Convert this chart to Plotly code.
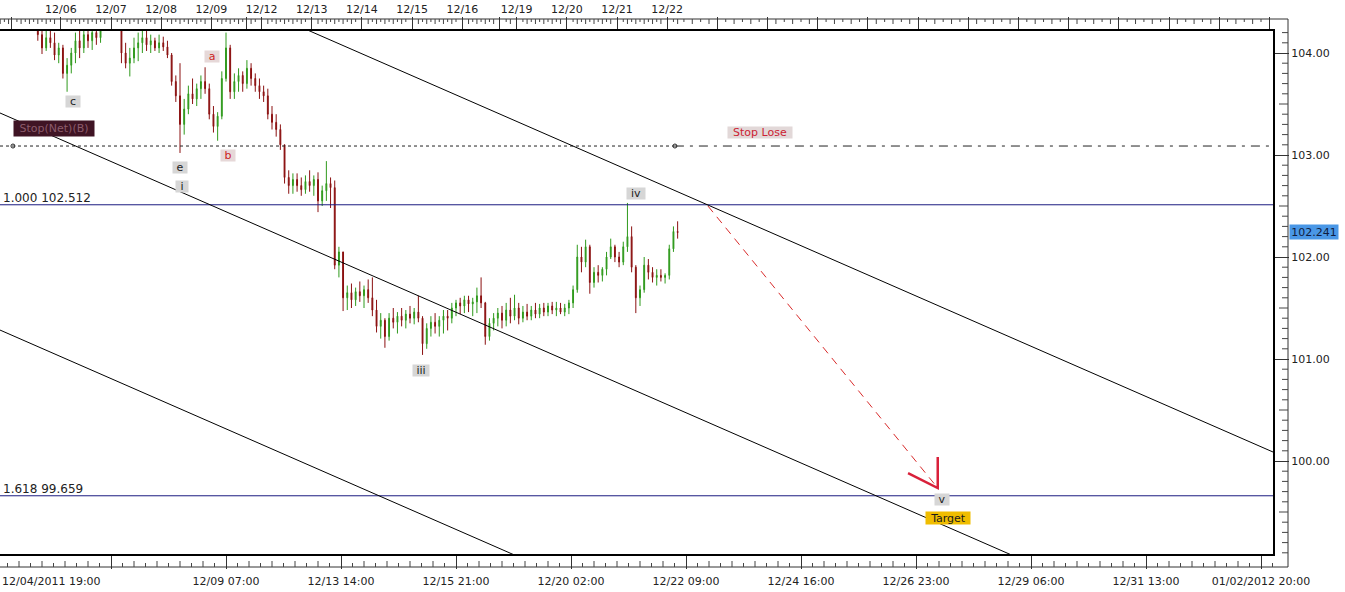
import plotly.graph_objects as go

# ---------------- data (2-hour candles, x = bar index in hours) ----------------
bars = list(range(20, 327, 2))
opens = [104.30, 104.18, 104.05, 104.15, 104.10, 103.98, 104.05, 103.80, 103.88, 104.00,
         104.12, 104.05, 104.18, 104.12, 104.20, 104.15, 104.25, 104.38, 104.40, 104.30,
         104.25, 104.00, 103.90, 103.95, 104.05, 104.10, 104.15, 104.08, 104.12, 104.05,
         104.10, 104.06, 103.98, 103.72, 103.58, 103.30, 103.45, 103.60, 103.55, 103.65,
         103.72, 103.65, 103.40, 103.28, 103.38, 103.75, 104.05, 103.62, 103.72, 103.78,
         103.70, 103.85, 103.75, 103.68, 103.62, 103.58, 103.40, 103.32, 103.25, 103.10,
         102.78, 102.70, 102.76, 102.70, 102.66, 102.74, 102.70, 102.76, 102.55, 102.65,
         102.72, 102.68, 101.92, 102.05, 101.60, 101.65, 101.58, 101.66, 101.62, 101.68,
         101.60, 101.48, 101.32, 101.38, 101.22, 101.40, 101.36, 101.42, 101.38, 101.44,
         101.40, 101.46, 101.40, 101.15, 101.30, 101.36, 101.32, 101.38, 101.42, 101.40,
         101.50, 101.55, 101.52, 101.58, 101.54, 101.56, 101.62, 101.55, 101.22, 101.35,
         101.40, 101.45, 101.38, 101.48, 101.42, 101.50, 101.40, 101.46, 101.42, 101.48,
         101.44, 101.50, 101.46, 101.52, 101.48, 101.50, 101.46, 101.50, 101.55, 101.68,
         102.00, 101.95, 102.10, 101.75, 101.85, 101.82, 101.88, 102.00, 102.10, 102.00,
         101.95, 102.10, 102.20, 101.90, 101.60, 101.68, 101.92, 101.85, 101.80, 101.82,
         101.80, 101.82, 102.08, 102.25]
highs = [104.38, 104.25, 104.22, 104.30, 104.20, 104.10, 104.08, 103.95, 104.05, 104.20,
         104.25, 104.30, 104.30, 104.28, 104.32, 104.35, 104.45, 104.50, 104.48, 104.40,
         104.30, 104.10, 104.05, 104.15, 104.20, 104.25, 104.25, 104.18, 104.15, 104.18,
         104.16, 104.12, 104.00, 103.78, 103.90, 103.55, 103.68, 103.75, 103.70, 103.78,
         103.86, 103.70, 103.48, 103.42, 103.82, 104.20, 104.08, 103.80, 103.85, 103.82,
         103.93, 103.90, 103.80, 103.75, 103.68, 103.65, 103.48, 103.40, 103.30, 103.10,
         102.85, 102.82, 102.82, 102.78, 102.80, 102.85, 102.80, 102.83, 102.70, 102.94,
         102.78, 102.75, 102.10, 102.05, 101.72, 101.74, 101.70, 101.76, 101.72, 101.78,
         101.80, 101.58, 101.45, 101.40, 101.45, 101.50, 101.46, 101.50, 101.48, 101.52,
         101.50, 101.62, 101.42, 101.35, 101.42, 101.45, 101.42, 101.48, 101.48, 101.55,
         101.58, 101.60, 101.62, 101.62, 101.60, 101.70, 101.80, 101.56, 101.40, 101.45,
         101.50, 101.52, 101.55, 101.60, 101.63, 101.55, 101.52, 101.54, 101.52, 101.55,
         101.54, 101.55, 101.55, 101.56, 101.56, 101.55, 101.54, 101.58, 101.72, 102.12,
         102.10, 102.17, 102.12, 101.90, 101.92, 101.90, 102.05, 102.18, 102.12, 102.05,
         102.15, 102.53, 102.30, 101.92, 101.72, 102.00, 101.98, 101.90, 101.88, 101.88,
         101.84, 102.12, 102.30, 102.35]
lows = [104.12, 103.99, 104.02, 104.05, 103.93, 103.90, 103.75, 103.62, 103.80, 103.90,
        103.95, 104.00, 104.05, 104.03, 104.08, 104.10, 104.22, 104.28, 104.25, 104.23,
        103.90, 103.85, 103.77, 103.90, 103.92, 104.00, 104.02, 104.00, 104.02, 104.00,
        104.02, 103.95, 103.68, 103.52, 103.02, 103.20, 103.40, 103.50, 103.48, 103.55,
        103.60, 103.35, 103.22, 103.14, 103.35, 103.72, 103.55, 103.55, 103.62, 103.62,
        103.65, 103.68, 103.62, 103.55, 103.52, 103.35, 103.25, 103.18, 103.05, 102.72,
        102.62, 102.62, 102.64, 102.60, 102.62, 102.64, 102.60, 102.44, 102.50, 102.55,
        102.48, 101.88, 101.80, 101.47, 101.48, 101.50, 101.52, 101.56, 101.50, 101.55,
        101.42, 101.26, 101.20, 101.11, 101.18, 101.30, 101.25, 101.32, 101.30, 101.35,
        101.34, 101.36, 101.04, 101.10, 101.22, 101.25, 101.22, 101.25, 101.28, 101.35,
        101.42, 101.44, 101.45, 101.46, 101.42, 101.45, 101.50, 101.14, 101.18, 101.28,
        101.32, 101.30, 101.32, 101.35, 101.38, 101.34, 101.36, 101.38, 101.38, 101.40,
        101.40, 101.42, 101.42, 101.44, 101.42, 101.44, 101.42, 101.44, 101.50, 101.65,
        101.85, 101.90, 101.64, 101.70, 101.75, 101.76, 101.82, 101.98, 101.95, 101.90,
        101.92, 102.05, 101.85, 101.45, 101.52, 101.65, 101.78, 101.75, 101.72, 101.76,
        101.74, 101.78, 102.05, 102.18]
closes = [104.18, 104.05, 104.15, 104.10, 103.98, 104.05, 103.80, 103.88, 104.00, 104.12,
          104.05, 104.18, 104.12, 104.20, 104.15, 104.25, 104.38, 104.40, 104.30, 104.25,
          104.00, 103.90, 103.95, 104.05, 104.10, 104.15, 104.08, 104.12, 104.05, 104.10,
          104.06, 103.98, 103.72, 103.58, 103.30, 103.45, 103.60, 103.55, 103.65, 103.72,
          103.65, 103.40, 103.28, 103.38, 103.75, 104.05, 103.62, 103.72, 103.78, 103.70,
          103.85, 103.75, 103.68, 103.62, 103.58, 103.40, 103.32, 103.25, 103.10, 102.78,
          102.70, 102.76, 102.70, 102.66, 102.74, 102.70, 102.76, 102.55, 102.65, 102.72,
          102.68, 101.92, 102.05, 101.60, 101.65, 101.58, 101.66, 101.62, 101.68, 101.60,
          101.48, 101.32, 101.38, 101.22, 101.40, 101.36, 101.42, 101.38, 101.44, 101.40,
          101.46, 101.40, 101.15, 101.30, 101.36, 101.32, 101.38, 101.42, 101.40, 101.50,
          101.55, 101.52, 101.58, 101.54, 101.56, 101.62, 101.55, 101.22, 101.35, 101.40,
          101.45, 101.38, 101.48, 101.42, 101.50, 101.40, 101.46, 101.42, 101.48, 101.44,
          101.50, 101.46, 101.52, 101.48, 101.50, 101.46, 101.50, 101.55, 101.68, 102.00,
          101.95, 102.10, 101.75, 101.85, 101.82, 101.88, 102.00, 102.10, 102.00, 101.95,
          102.10, 102.20, 101.90, 101.60, 101.68, 101.92, 101.85, 101.80, 101.82, 101.80,
          101.82, 102.08, 102.25, 102.241]

# bottom time axis (bar index -> label)
time_ticks = [55, 110, 165, 220, 275, 330, 385, 440, 495, 550, 605]
time_labels = ["", "12/09 07:00", "12/13 14:00", "12/15 21:00", "12/20 02:00",
               "12/22 09:00", "12/24 16:00", "12/26 23:00", "12/29 06:00",
               "12/31 13:00", "01/02/2012 20:00"]
first_time_label = "12/04/2011 19:00"

# top day axis
day_ticks = [7.5, 31, 55, 79, 103, 120, 127, 151, 175, 199, 223, 241, 249, 273, 297, 321,
             345, 369, 393, 417, 441, 465, 489, 513, 537, 561, 585, 609]
day_labels = ["", "12/06", "12/07", "12/08", "12/09", "", "12/12", "12/13", "12/14",
              "12/15", "12/16", "", "12/19", "12/20", "12/21", "12/22"] + [""] * 12
session_marks = day_ticks[:16]

# price axis
price_ticks = [100, 101, 102, 103, 104]
last_price = 102.241

# fibonacci projection levels
fib_levels = [102.512, 99.659]
fib_names = ["1.000 102.512", "1.618 99.659"]

# stop level
stop_level = 103.088
stop_split_bar = 324.7
stop_anchor_bar = 8.1

# channel trend lines (bar, price endpoints)
channel_x = [[140.0, 615.0], [0.0, 490.0], [0.0, 250.0]]
channel_y = [[104.306, 100.050], [103.429, 99.040], [101.301, 99.060]]

# projected path to target
path_x = [340.5, 450.4]
path_y = [102.50, 99.735]
head_x = [436.2, 450.4, 450.4]
head_y = [99.882, 99.735, 100.039]

# wave labels: text, bar, price, style
wave_labels = [("c", 36.8, 103.52, "g", 14), ("e", 88.0, 102.873, "g", 14),
               ("i", 89.0, 102.696, "g", 12), ("a", 103.3, 103.961, "r", 14),
               ("b", 110.96, 103.00, "r", 14), ("iii", 203.3, 100.892, "g", 16),
               ("iv", 306.1, 102.627, "g", 18), ("v", 452.4, 99.618, "g", 14)]

# ---------------- geometry ----------------
W, H = 1345, 592
ML, MR, MT, MB = 0, 72, 31, 38
PW, PH = W - ML - MR, H - MT - MB
X_RANGE = [1.913, 610.74]
Y_RANGE = [99.0882, 104.2157]
FONT = "DejaVu Sans"


def pyp(py):  # pixel row -> paper y
    return (H - MB - py) / PH


def pxp(px):  # pixel column -> paper x
    return (px - ML) / PW


GREEN = "#2f9a1c"
RED = "#8b1010"

fig = go.Figure()

fig.add_trace(go.Candlestick(
    x=bars, open=opens, high=highs, low=lows, close=closes,
    increasing=dict(line=dict(color=GREEN, width=1), fillcolor=GREEN),
    decreasing=dict(line=dict(color=RED, width=1), fillcolor=RED),
    whiskerwidth=0, showlegend=False, hoverinfo="skip"))

# fib lines
for lvl in fib_levels:
    fig.add_trace(go.Scatter(x=X_RANGE, y=[lvl, lvl], mode="lines",
                             line=dict(color="#1a1a80", width=1), showlegend=False, hoverinfo="skip"))

# stop line
fig.add_trace(go.Scatter(x=[X_RANGE[0], stop_split_bar], y=[stop_level, stop_level], mode="lines",
                         line=dict(color="#222222", width=1, dash="3px,3px"), showlegend=False, hoverinfo="skip"))
fig.add_trace(go.Scatter(x=[stop_split_bar, X_RANGE[1]], y=[stop_level, stop_level], mode="lines",
                         line=dict(color="#222222", width=1, dash="9px,6px,3px,6px"), showlegend=False, hoverinfo="skip"))
fig.add_trace(go.Scatter(x=[stop_anchor_bar, stop_split_bar], y=[stop_level, stop_level], mode="markers",
                         marker=dict(symbol="circle-open", size=4, color="#222222", line=dict(width=1)),
                         showlegend=False, hoverinfo="skip"))

# channel
for cx, cy in zip(channel_x, channel_y):
    fig.add_trace(go.Scatter(x=cx, y=cy, mode="lines", line=dict(color="black", width=1),
                             showlegend=False, hoverinfo="skip"))

# projection arrow
fig.add_trace(go.Scatter(x=path_x, y=path_y, mode="lines",
                         line=dict(color="#d92b2b", width=1, dash="8px,6px"), showlegend=False, hoverinfo="skip"))
fig.add_trace(go.Scatter(x=head_x, y=head_y, mode="lines",
                         line=dict(color="#d9203a", width=2.5), showlegend=False, hoverinfo="skip"))

# session markers on top ruler (on xaxis2)
tri_y = Y_RANGE[1] + (MT - 23) / PH * (Y_RANGE[1] - Y_RANGE[0])
fig.add_trace(go.Scatter(x=session_marks, y=[tri_y] * len(session_marks), xaxis="x2", mode="markers",
                         marker=dict(symbol="triangle-down", size=9, color="#d4a820",
                                     line=dict(color="#a98010", width=0.5)),
                         cliponaxis=False, showlegend=False, hoverinfo="skip"))

# ---------------- rulers (shapes) ----------------
shapes = []
RX = pxp(1288)
top_y, bot_y = pyp(19), pyp(567)
shapes.append(dict(type="line", xref="paper", yref="paper", x0=0, x1=RX, y0=top_y, y1=top_y,
                   line=dict(color="#333333", width=1)))
shapes.append(dict(type="line", xref="paper", yref="paper", x0=0, x1=RX, y0=bot_y, y1=bot_y,
                   line=dict(color="#333333", width=1)))
shapes.append(dict(type="line", xref="paper", yref="paper", x0=RX, x1=RX, y0=bot_y, y1=top_y,
                   line=dict(color="#333333", width=1)))

# top minor ticks
path = []
cnt = 0
minor_top = list(range(2, 327, 2)) + list(range(329, 611, 4))
for b in minor_top:
    if any(abs(b - d) < 1.5 for d in day_ticks):
        continue
    ln = 5 if cnt % 2 == 0 else 3
    cnt += 1
    path.append(f"M{b},{top_y} L{b},{pyp(19 + ln)}")
shapes.append(dict(type="path", xref="x", yref="paper", path=" ".join(path),
                   line=dict(color="#444444", width=1)))

# bottom minor ticks
path = []
for k in range(1, 112):
    b = k * 5.5
    if k % 10 == 0 or b < X_RANGE[0] or b > X_RANGE[1]:
        continue
    ln = 6 if k % 2 == 0 else 4
    path.append(f"M{b},{bot_y} L{b},{pyp(567 - ln)}")
shapes.append(dict(type="path", xref="x", yref="paper", path=" ".join(path),
                   line=dict(color="#444444", width=1)))

# right minor ticks
path = []
for k in range(991, 1043):
    p = k / 10
    if k % 10 == 0:
        continue
    x0 = pxp(1279) if k % 5 == 0 else pxp(1282)
    path.append(f"M{x0},{p} L{RX},{p}")
shapes.append(dict(type="path", xref="paper", yref="y", path=" ".join(path),
                   line=dict(color="#444444", width=1)))

# ---------------- annotations ----------------
ann = []
for name, lvl in zip(fib_names, fib_levels):
    ann.append(dict(xref="paper", yref="y", x=0.001, y=lvl, xanchor="left", yanchor="bottom",
                    text=name, showarrow=False, yshift=-2,
                    font=dict(family=FONT, size=12, color="#222222")))

for txt, bx, py_, style, w in wave_labels:
    ann.append(dict(x=bx, y=py_, xref="x", yref="y", text=txt, showarrow=False,
                    width=w, height=11, borderpad=0,
                    bgcolor="#e6d8d8" if style == "r" else "#d6d6d6",
                    font=dict(family=FONT, size=11, color="#cc1f1f" if style == "r" else "#222222")))

ann.append(dict(x=455.1, y=99.441, xref="x", yref="y", text="Target", showarrow=False,
                width=44, height=12, borderpad=0, bgcolor="#f0bd00",
                font=dict(family=FONT, size=11, color="#1a1a1a")))
ann.append(dict(x=365.4, y=103.216, xref="x", yref="y", text="Stop Lose", showarrow=False,
                width=64, height=11, borderpad=0, bgcolor="#e2d8d8",
                font=dict(family=FONT, size=11, color="#cc2233")))
ann.append(dict(x=27.7, y=103.26, xref="x", yref="y", text="Stop(Net)(B)", showarrow=False,
                width=80, height=15, borderpad=0, bgcolor="#3f1424",
                font=dict(family=FONT, size=11, color="#8c5b6b")))
ann.append(dict(xref="paper", yref="y", x=pxp(1289), y=last_price, xanchor="left", yanchor="middle",
                text=f"{last_price:.3f}", showarrow=False, width=48, height=14, borderpad=0,
                bgcolor="#4a97e6", font=dict(family=FONT, size=11, color="#101c40")))
ann.append(dict(xref="paper", yref="paper", x=0, y=pyp(581), xanchor="left", yanchor="middle",
                text=first_time_label, showarrow=False,
                font=dict(family=FONT, size=11, color="#222222")))

fig.update_layout(
    width=W, height=H, autosize=False,
    margin=dict(l=ML, r=MR, t=MT, b=MB, pad=0),
    paper_bgcolor="white", plot_bgcolor="white",
    showlegend=False,
    shapes=shapes, annotations=ann,
    font=dict(family=FONT, size=11, color="#222222"),
    boxgap=0.7,
    xaxis=dict(range=X_RANGE, showgrid=False, zeroline=False, showline=True, linewidth=2,
               linecolor="black", ticks="outside", ticklen=13, tickwidth=1, tickcolor="#333333",
               tickvals=time_ticks, ticktext=time_labels, ticklabelstandoff=3,
               tickfont=dict(family=FONT, size=11, color="#222222"),
               rangeslider=dict(visible=False), fixedrange=True),
    xaxis2=dict(range=X_RANGE, overlaying="x", side="top", anchor="y", showgrid=False,
                zeroline=False, showline=True, linewidth=2, linecolor="black",
                ticks="outside", ticklen=12, tickwidth=1, tickcolor="#333333",
                tickvals=day_ticks, ticktext=day_labels,
                tickfont=dict(family=FONT, size=11, color="#222222"), fixedrange=True),
    yaxis=dict(range=Y_RANGE, side="right", showgrid=False, zeroline=False, showline=True,
               linewidth=2, linecolor="black", ticks="outside", ticklen=14, tickwidth=1,
               tickcolor="#333333", tickvals=price_ticks,
               ticktext=[f"{v:.2f}" for v in price_ticks],
               tickfont=dict(family=FONT, size=11, color="#222222"), fixedrange=True),
)

fig.write_html("out.html", config={"displayModeBar": False},
               post_script="document.body.style.margin='0';")
